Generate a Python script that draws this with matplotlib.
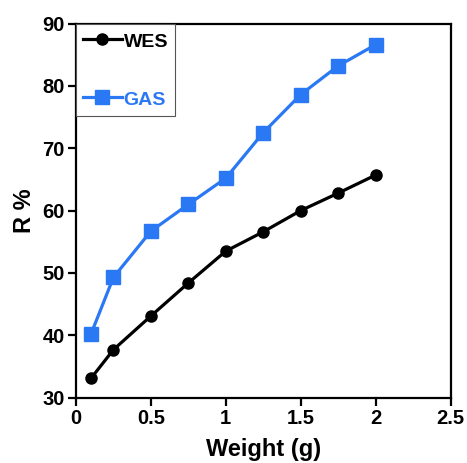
import matplotlib
matplotlib.use("Agg")
import matplotlib.pyplot as plt

weight = [0.1, 0.25, 0.5, 0.75, 1.0, 1.25, 1.5, 1.75, 2.0]
wes = [33.1, 37.7, 43.1, 48.4, 53.5, 56.6, 60.0, 62.8, 65.7]
gas = [40.2, 49.3, 56.7, 61.0, 65.2, 72.5, 78.6, 83.2, 86.6]
xticks = [0, 0.5, 1, 1.5, 2, 2.5]
xticklabels = ["0", "0.5", "1", "1.5", "2", "2.5"]
yticks = [30, 40, 50, 60, 70, 80, 90]

plt.rcParams['font.family'] = ['Liberation Sans', 'DejaVu Sans']
plt.rcParams['font.weight'] = 'bold'

blue = '#2B78F5'
fig = plt.figure(figsize=(4.67, 4.63), dpi=100)
ax = fig.add_axes([76/467, 1 - 397.7/463, 374.5/467, 374.2/463])

ax.plot(weight, wes, color='black', lw=2.3, marker='o', ms=8, label='WES')
ax.plot(weight, gas, color=blue, lw=2.3, marker='s', ms=10, label='GAS')

ax.set_xlim(0, 2.5)
ax.set_ylim(30, 90)
ax.set_xticks(xticks)
ax.set_xticklabels(xticklabels)
ax.set_yticks(yticks)
for s in ax.spines.values():
    s.set_linewidth(1.6)
ax.tick_params(direction='out', length=6, width=1.6, labelsize=14.5, pad=2)
for lab in ax.get_xticklabels() + ax.get_yticklabels():
    lab.set_fontweight('bold')

ax.set_xlabel('Weight (g)', fontsize=17, fontweight='bold', labelpad=7)
ax.set_ylabel('R %', fontsize=17, fontweight='bold', labelpad=5)

leg = ax.legend(loc='upper left', borderaxespad=0, fontsize=14, labelspacing=1.95,
                handlelength=2.0, handleheight=1.2, handletextpad=0.1, borderpad=0.35,
                fancybox=False, framealpha=1)
leg.get_frame().set_edgecolor('#555555')
leg.get_frame().set_linewidth(0.8)
for t, c in zip(leg.get_texts(), ['black', blue]):
    t.set_color(c)
    t.set_fontweight('bold')

fig.savefig('out.png', dpi=100)
